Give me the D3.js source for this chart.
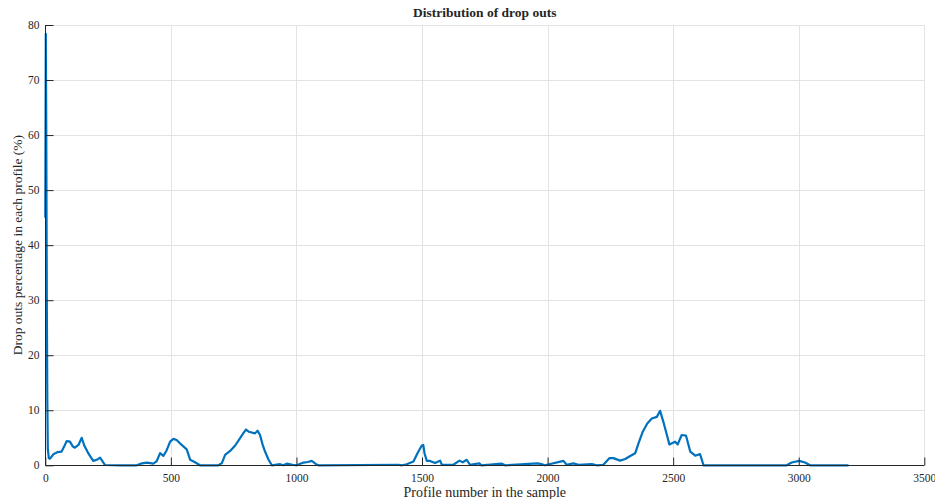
<!DOCTYPE html>
<html>
<head>
<meta charset="utf-8">
<script src="https://cdn.jsdelivr.net/npm/d3@7"></script>
<style>
  html, body { margin: 0; padding: 0; background: #fff; }
  svg { display: block; }
  text { font-family: "Liberation Serif", "DejaVu Serif", serif; fill: #262626; }
</style>
</head>
<body>
<svg id="chart" width="935" height="499"></svg>
<script>
// Profile index and the share of drop outs (%) in each profile
const profileIndex = [
  0, 2, 4, 5, 6, 8, 10, 14, 19, 32, 50, 65, 75, 85, 98, 110, 118, 132, 145, 155, 163, 171, 181, 191, 205, 218, 228, 238,
  300, 364, 380, 404, 418, 430, 443, 457, 470, 483, 497, 510, 523, 543, 563, 577, 596, 616,
  689, 703, 716, 736, 756, 775, 788, 799, 810, 818, 835, 845, 855, 865, 875, 888, 902,
  935, 948, 961, 985, 1001, 1028, 1045, 1061, 1078, 1088,
  1406, 1420, 1439, 1466, 1482, 1499, 1505, 1510, 1519, 1532, 1552, 1572, 1579, 1625, 1649, 1662, 1678, 1691,
  1728, 1737, 1818, 1831, 1959, 1977, 1990, 2063, 2076, 2103, 2123, 2176, 2196, 2222,
  2246, 2262, 2289, 2309, 2329, 2349, 2362, 2379, 2397, 2415, 2435, 2448, 2461, 2475, 2485, 2508, 2518, 2534, 2551,
  2568, 2588, 2607, 2621, 2952, 2972, 3002, 3025, 3045, 3198
];
const dropOutPct = [
  45, 78.4, 60, 45, 30, 12, 3, 1.3, 1.2, 2.0, 2.4, 2.5, 3.4, 4.4, 4.3, 3.4, 3.2, 3.7, 5.0, 3.6, 2.9, 2.2, 1.5, 0.8, 1.0, 1.4, 0.7, 0.05,
  0, 0, 0.3, 0.5, 0.4, 0.3, 0.7, 2.2, 1.7, 2.7, 4.3, 4.8, 4.6, 3.7, 2.9, 1.0, 0.55, 0,
  0, 0.4, 1.9, 2.6, 3.6, 4.9, 5.8, 6.5, 6.1, 6.0, 5.8, 6.3, 5.5, 3.8, 2.5, 1.1, 0,
  0.2, 0, 0.3, 0.1, 0, 0.5, 0.6, 0.8, 0.2, 0,
  0.1, 0, 0.2, 0.7, 2.2, 3.6, 3.7, 2.2, 0.8, 0.8, 0.4, 0.85, 0.1, 0.1, 0.85, 0.55, 1.0, 0.1,
  0.35, 0, 0.3, 0, 0.35, 0.2, 0, 0.8, 0.1, 0.35, 0.1, 0.2, 0, 0.1,
  1.3, 1.3, 0.85, 1.15, 1.7, 2.2, 4.0, 6.1, 7.6, 8.5, 8.8, 9.9, 7.9, 5.5, 3.8, 4.3, 3.8, 5.5, 5.4,
  2.5, 1.75, 2.05, 0, 0, 0.5, 0.8, 0.5, 0, 0
];
const xTicks = [0, 500, 1000, 1500, 2000, 2500, 3000, 3500];
const yTicks = [0, 10, 20, 30, 40, 50, 60, 70, 80];

const points = profileIndex.map((p, i) => ({ x: p, y: dropOutPct[i] }));

const svg = d3.select("#chart");
const W = 935, H = 499;
const margin = { left: 45.3, right: W - 924.3, top: 25, bottom: H - 465.3 };

const x = d3.scaleLinear().domain([0, 3500]).range([margin.left, W - margin.right]);
const y = d3.scaleLinear().domain([0, 80]).range([H - margin.bottom, margin.top]);

// grid
const grid = svg.append("g").attr("stroke", "#e3e3e3").attr("stroke-width", 1);
grid.selectAll(".gx").data(xTicks.filter(d => d > 0)).join("line")
  .attr("x1", d => Math.round(x(d)) + 0.5).attr("x2", d => Math.round(x(d)) + 0.5)
  .attr("y1", y(0)).attr("y2", y(80));
grid.selectAll(".gy").data(yTicks.filter(d => d > 0)).join("line")
  .attr("y1", d => Math.round(y(d)) + 0.5).attr("y2", d => Math.round(y(d)) + 0.5)
  .attr("x1", x(0)).attr("x2", x(3500));

// data line
const line = d3.line().x(d => x(d.x)).y(d => y(d.y)).curve(d3.curveLinear);
svg.append("path")
  .datum(points)
  .attr("fill", "none")
  .attr("stroke", "#0072BD")
  .attr("stroke-width", 2.2)
  .attr("stroke-linejoin", "round")
  .attr("d", line);

// axes with inward ticks
const xAxis = d3.axisBottom(x).tickValues(xTicks).tickSize(-8).tickPadding(8).tickFormat(d3.format("d"));
const yAxis = d3.axisLeft(y).tickValues(yTicks).tickSize(-8).tickPadding(6).tickFormat(d3.format("d"));

const gx = svg.append("g").attr("transform", `translate(0,${Math.round(y(0)) + 0.5})`).call(xAxis);
const gy = svg.append("g").attr("transform", `translate(${Math.round(x(0)) + 0.5},0)`).call(yAxis);

[gx, gy].forEach(g => {
  g.select(".domain").attr("stroke", "#262626").attr("stroke-width", 1);
  g.selectAll(".tick line").attr("stroke", "#262626").attr("stroke-width", 1);
  g.selectAll(".tick text").attr("font-size", 11.5).attr("fill", "#262626")
    .attr("font-family", "Liberation Serif, DejaVu Serif, serif");
});
gx.select(".domain").attr("d", `M${x(0)},0H${x(3500)}`);
gy.select(".domain").attr("d", `M0,${y(0)}V${y(80)}`);

// title and axis labels
svg.append("text")
  .attr("x", (x(0) + x(3500)) / 2).attr("y", 17)
  .attr("text-anchor", "middle").attr("font-size", 13.5).attr("font-weight", "bold")
  .text("Distribution of drop outs");

svg.append("text")
  .attr("x", (x(0) + x(3500)) / 2).attr("y", 497)
  .attr("text-anchor", "middle").attr("font-size", 14)
  .text("Profile number in the sample");

svg.append("text")
  .attr("transform", `translate(22,${(y(0) + y(80)) / 2}) rotate(-90)`)
  .attr("text-anchor", "middle").attr("font-size", 13.5)
  .text("Drop outs percentage in each profile (%)");
</script>
</body>
</html>
